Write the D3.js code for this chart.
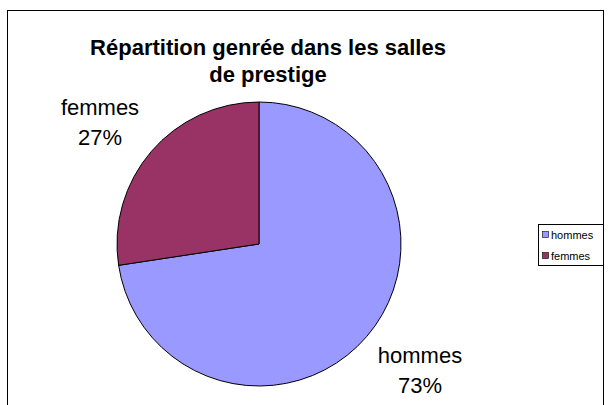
<!DOCTYPE html>
<html><head><meta charset="utf-8">
<script src="https://cdn.jsdelivr.net/npm/d3@7"></script>
<style>body{margin:0;background:#fff}svg{display:block}text{font-family:"Liberation Sans",Arial,sans-serif}</style>
</head><body><svg id="c" width="611" height="405"></svg>
<script>
const categories = ["hommes", "femmes"];
const values = [72.6, 27.4];
const colors = ["#9999FF", "#993366"];
const titleLines = ["Répartition genrée dans les salles", "de prestige"];

const svg = d3.select("#c");
svg.append("rect").attr("x",7.5).attr("y",10.5).attr("width",596).attr("height",420)
  .attr("fill","#fff").attr("stroke","#000").attr("stroke-width",1);

const title = svg.append("text").attr("text-anchor","middle").attr("font-weight","bold").attr("font-size",22);
titleLines.forEach((t,i)=>title.append("tspan").attr("x",268).attr("y",55+i*27).text(t));

const cx=259, cy=244, r=142;
const data = categories.map((c,i)=>({cat:c,value:values[i],color:colors[i]}));
const pie = d3.pie().value(d=>d.value).sort(null);
const arcs = pie(data);
const arc = d3.arc().innerRadius(0).outerRadius(r);
const g = svg.append("g").attr("transform",`translate(${cx},${cy})`);
g.selectAll("path").data(arcs).join("path").attr("d",arc)
  .attr("fill",d=>d.data.color).attr("stroke","#000").attr("stroke-width",1);

const total = d3.sum(values);
const labelPos = {hommes:[420,363], femmes:[100,115]};
data.forEach(d=>{
  const [x,y]=labelPos[d.cat];
  const t = svg.append("text").attr("text-anchor","middle").attr("font-size",22).attr("fill","#000");
  t.append("tspan").attr("x",x).attr("y",y).text(d.cat);
  t.append("tspan").attr("x",x).attr("y",y+30).text(Math.round(d.value/total*100)+"%");
});

const lg = svg.append("g");
lg.append("rect").attr("x",538.5).attr("y",224.5).attr("width",65).attr("height",41)
  .attr("fill","#fff").attr("stroke","#000").attr("stroke-width",1);
data.forEach((d,i)=>{
  const y = 231 + i*21;
  lg.append("rect").attr("x",542.5).attr("y",y+0.5).attr("width",6).attr("height",6)
    .attr("fill",d.color).attr("stroke","#000").attr("stroke-width",0.6);
  lg.append("text").attr("x",551).attr("y",y+8).attr("font-size",11).text(d.cat);
});
</script></body></html>
